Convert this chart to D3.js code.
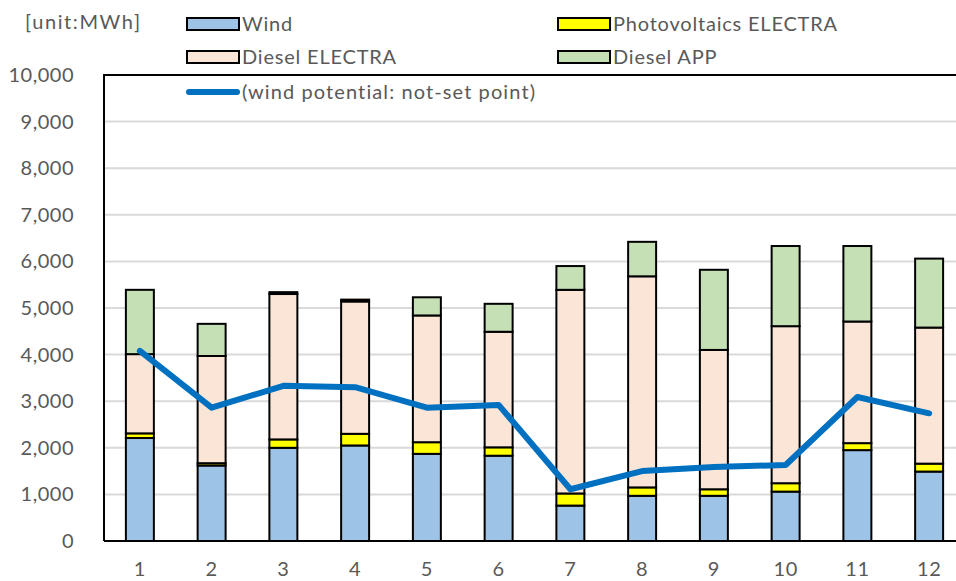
<!DOCTYPE html>
<html>
<head>
<meta charset="utf-8">
<script src="https://cdn.jsdelivr.net/npm/d3@7"></script>
<style>
  html, body { margin: 0; padding: 0; background: #fff; }
  svg { display: block; font-family: Lato, "Liberation Sans", sans-serif; }
  .tick-label, .legend-label, .unit { fill: #595959; }
</style>
</head>
<body>
<svg id="chart" width="956" height="581"></svg>
<script>
// Monthly generation by source (MWh)
const months = ["1", "2", "3", "4", "5", "6", "7", "8", "9", "10", "11", "12"];
const wind = [2210, 1620, 2000, 2050, 1870, 1830, 760, 970, 970, 1060, 1950, 1490];
const pvElectra = [100, 50, 180, 250, 250, 180, 260, 180, 140, 180, 150, 170];
const dieselElectra = [1700, 2300, 3120, 2840, 2720, 2480, 4370, 4530, 2990, 3370, 2610, 2920];
const dieselApp = [1380, 690, 40, 40, 390, 600, 510, 740, 1720, 1720, 1620, 1480];
const windPotential = [4080, 2860, 3330, 3300, 2860, 2920, 1110, 1500, 1590, 1630, 3090, 2740];
const yTicks = [0, 1000, 2000, 3000, 4000, 5000, 6000, 7000, 8000, 9000, 10000];

const seriesKeys = ["wind", "pv", "dieselE", "dieselApp"];
const seriesNames = {
  wind: "Wind", pv: "Photovoltaics ELECTRA",
  dieselE: "Diesel ELECTRA", dieselApp: "Diesel APP"
};
const colors = {
  wind: "#9dc3e6", pv: "#ffff00", dieselE: "#fbe5d6", dieselApp: "#c5e0b4"
};
const lineColor = "#0070c0";

const table = months.map((m, i) => ({
  month: m, wind: wind[i], pv: pvElectra[i],
  dieselE: dieselElectra[i], dieselApp: dieselApp[i], potential: windPotential[i]
}));

const svg = d3.select("#chart");
const plot = { left: 104, top: 75, right: 965, bottom: 541 };

const x = d3.scaleBand()
  .domain(months)
  .range([plot.left, plot.right])
  .paddingInner(0.61)
  .paddingOuter(0.305);

const y = d3.scaleLinear()
  .domain([0, 10000])
  .range([plot.bottom, plot.top]);

// Horizontal gridlines
svg.append("g")
  .selectAll("line")
  .data(yTicks.filter(t => t > 0 && t < 10000))
  .join("line")
  .attr("x1", plot.left).attr("x2", 956)
  .attr("y1", d => y(d)).attr("y2", d => y(d))
  .attr("stroke", "#d9d9d9").attr("stroke-width", 2);

// Y axis labels
const yAxis = d3.axisLeft(y)
  .tickValues(yTicks)
  .tickFormat(d3.format(","))
  .tickSize(0)
  .tickPadding(0);
const yg = svg.append("g")
  .attr("transform", `translate(74,0)`)
  .call(yAxis);
yg.select(".domain").remove();
yg.selectAll("text")
  .attr("class", "tick-label")
  .attr("font-size", 20)
  .attr("letter-spacing", 0.5)
  .attr("font-family", "Lato, sans-serif");

// X axis labels
const xAxis = d3.axisBottom(x).tickSize(0).tickPadding(0);
const xg = svg.append("g")
  .attr("transform", `translate(0,${plot.bottom + 21})`)
  .call(xAxis);
xg.select(".domain").remove();
xg.selectAll("text")
  .attr("class", "tick-label")
  .attr("font-size", 20)
  .attr("letter-spacing", 0.5)
  .attr("font-family", "Lato, sans-serif");

// Stacked bars
const stack = d3.stack().keys(seriesKeys);
const stacked = stack(table);

svg.append("g")
  .selectAll("g")
  .data(stacked)
  .join("g")
  .attr("fill", d => colors[d.key])
  .selectAll("rect")
  .data(d => d)
  .join("rect")
  .attr("x", d => x(d.data.month))
  .attr("width", x.bandwidth())
  .attr("y", d => y(d[1]))
  .attr("height", d => y(d[0]) - y(d[1]))
  .attr("stroke", "#000")
  .attr("stroke-width", 2);

// Plot frame: left, top and baseline
svg.append("path")
  .attr("d", `M${plot.left},${plot.bottom} V${plot.top} H956`)
  .attr("fill", "none").attr("stroke", "#000").attr("stroke-width", 2);
svg.append("line")
  .attr("x1", plot.left).attr("x2", 956)
  .attr("y1", plot.bottom).attr("y2", plot.bottom)
  .attr("stroke", "#000").attr("stroke-width", 2);

// Wind potential line
const line = d3.line()
  .x(d => x(d.month) + x.bandwidth() / 2)
  .y(d => y(d.potential));
svg.append("path")
  .datum(table)
  .attr("d", line)
  .attr("fill", "none")
  .attr("stroke", lineColor)
  .attr("stroke-width", 6)
  .attr("stroke-linecap", "round")
  .attr("stroke-linejoin", "round");

// Unit note
svg.append("text")
  .attr("class", "unit")
  .attr("x", 25).attr("y", 29)
  .attr("font-size", 20)
  .attr("letter-spacing", 1.6)
  .text("[unit:MWh]");

// Legend
const legendItems = [
  { key: "wind", col: 0, row: 0 },
  { key: "pv", col: 1, row: 0 },
  { key: "dieselE", col: 0, row: 1 },
  { key: "dieselApp", col: 1, row: 1 }
];
const colX = [187, 558];
const rowY = [24, 57, 92];
const lg = svg.append("g");
legendItems.forEach(it => {
  const gx = colX[it.col], gy = rowY[it.row];
  lg.append("rect")
    .attr("x", gx).attr("y", gy - 6)
    .attr("width", 52).attr("height", 12)
    .attr("fill", colors[it.key])
    .attr("stroke", "#000").attr("stroke-width", 2);
  lg.append("text")
    .attr("class", "legend-label")
    .attr("x", gx + 55).attr("y", gy)
    .attr("dy", "0.35em")
    .attr("font-size", 20)
    .attr("letter-spacing", 0.8)
    .text(seriesNames[it.key]);
});
lg.append("line")
  .attr("x1", colX[0] + 2).attr("x2", colX[0] + 50)
  .attr("y1", rowY[2]).attr("y2", rowY[2])
  .attr("stroke", lineColor).attr("stroke-width", 6)
  .attr("stroke-linecap", "round");
lg.append("text")
  .attr("class", "legend-label")
  .attr("x", colX[0] + 55).attr("y", rowY[2])
  .attr("dy", "0.35em")
  .attr("font-size", 20)
  .attr("letter-spacing", 1.1)
  .text("(wind potential: not-set point)");
</script>
</body>
</html>
